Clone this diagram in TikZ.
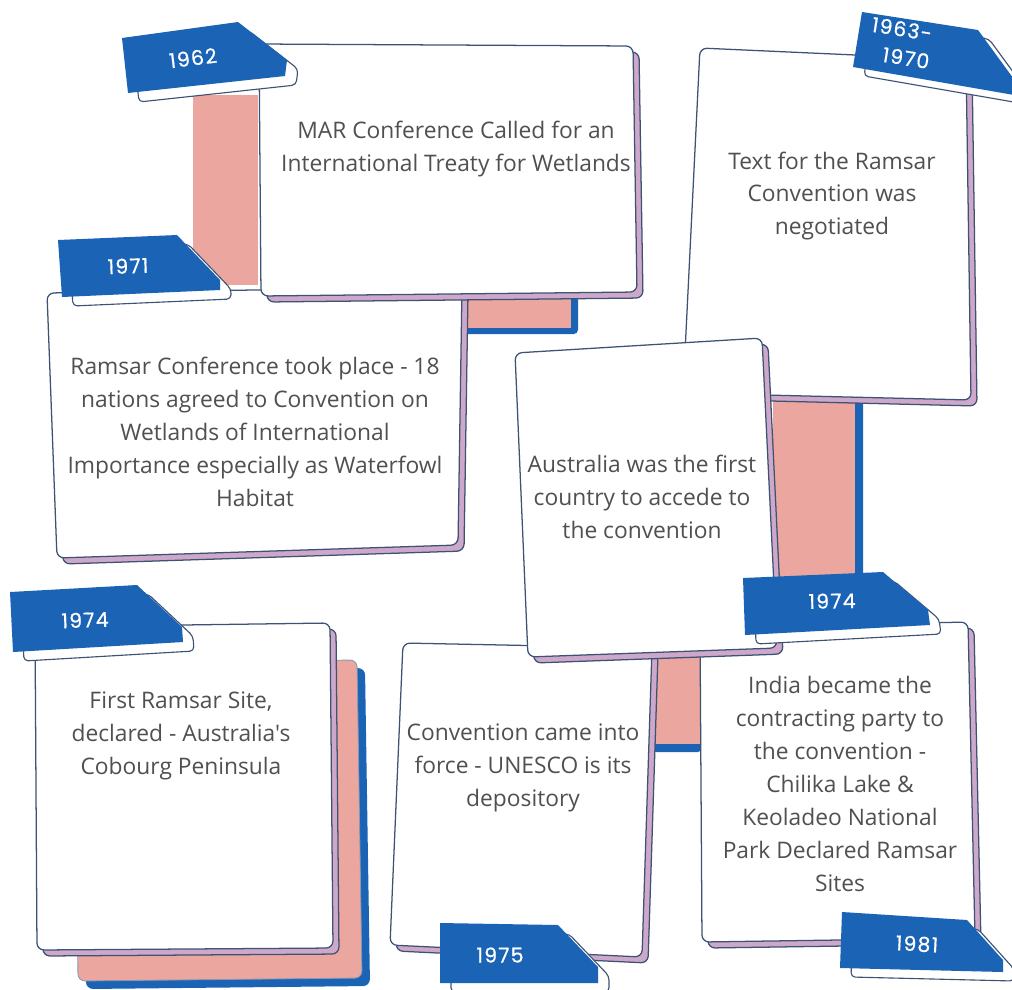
\documentclass[tikz,border=0pt]{standalone}
\usepackage{fontspec}
\setmainfont{Open Sans}[Ligatures=TeXOff]
\newfontfamily\yearfont{Poppins}[LetterSpace=6,FakeBold=0.6]
\definecolor{tabblue}{HTML}{1A63B5}
\definecolor{pinkc}{HTML}{EBA69F}
\definecolor{lav}{HTML}{CDA8CB}
\definecolor{edge}{HTML}{3E5272}
\definecolor{txt}{HTML}{505050}
\newcommand\mycard[4]{%
  \begin{scope}[shift={(6,6)}]\path[cardshadow] #1 -- #2 -- #3 -- #4 -- cycle;\end{scope}
  \path[card] #1 -- #2 -- #3 -- #4 -- cycle;}
\newcommand\mytab[5]{%
  \begin{scope}[shift={(11,9)}]\path[paper] #1 -- #2 -- #3 -- #4 -- #5 -- cycle;\end{scope}
  \path[tabfill] #1 -- #2 -- #3 -- #4 -- #5 -- cycle;}
\begin{document}
\begin{tikzpicture}[x=0.025cm,y=-0.025cm,
  card/.style={fill=white,draw=edge,line width=0.9pt,rounded corners=5pt},
  cardshadow/.style={fill=lav,draw=edge,line width=0.9pt,rounded corners=5pt},
  paper/.style={fill=white,draw=edge,line width=0.8pt,rounded corners=3pt},
  tabfill/.style={fill=tabblue},
  pinkblock/.style={fill=pinkc},
  blueblock/.style={fill=tabblue,rounded corners=3pt},
  cardtext/.style={text=txt,align=center,font=\fontsize{16.2}{23.4}\selectfont,inner sep=0pt},
  yeartext/.style={text=white,font=\yearfont\fontsize{14.5}{18}\selectfont,align=center,inner sep=0pt}]
\useasboundingbox (0,0) rectangle (1012,989);
\clip (0,0) rectangle (1012,989);

% connector blocks
\path[pinkblock] (193,95) rectangle (258,285);
\path[blueblock] (446,296) rectangle (578,334);
\path[pinkblock] (440,290) rectangle (571,328);
\path[blueblock] (782,398) rectangle (863,595);
\path[pinkblock] (773,392) rectangle (855,595);
\path[blueblock] (652,650) rectangle (702,752);
\path[pinkblock] (652,650) rectangle (700,744);

% card B (1963-1970)
\mycard{(700,48)}{(966,60)}{(971,400)}{(683,393)}
\mytab{(862,12)}{(978,30)}{(1016,82)}{(1014,95)}{(853,67)}
\node[yeartext,rotate=-9] (y1963a) at (902,29) {1963-};
\node[yeartext,rotate=-9] (y1963b) at (906,58) {1970};
\node[cardtext] (tB) at (832,196) {Text for the Ramsar\\Convention was\\negotiated};

% card C (1971)
\mycard{(47,293)}{(462,287)}{(458,545)}{(57,558)}
\mytab{(58,240)}{(177,235)}{(220,280)}{(220,290)}{(62,297)}
\node[yeartext,rotate=2] (y1971) at (128,266) {1971};
\node[cardtext] (tC) at (255,432) {Ramsar Conference took place - 18\\nations agreed to Convention on\\Wetlands of International\\Importance especially as Waterfowl\\Habitat};

% card A (1962)
\mycard{(259,44)}{(633,46)}{(637,292)}{(261,296)}
\mytab{(122,38)}{(238,22)}{(287,60)}{(285,76)}{(128,93)}
\node[yeartext,rotate=7] (y1962) at (193,58) {1962};
\node[cardtext] (tA) at (456,149) {MAR Conference Called for an\\International Treaty for Wetlands};

% card E (1974, first site)
\begin{scope}[shift={(8,8)}]\path[fill=tabblue,rounded corners=5pt] (75,663) -- (357,660) -- (362,978) -- (78,981) -- cycle;\end{scope}
\path[fill=pinkc,draw=edge!60,line width=0.6pt,rounded corners=5pt] (75,663) -- (357,660) -- (362,978) -- (78,981) -- cycle;
\mycard{(35,627)}{(330,623)}{(333,948)}{(37,950)}
\mytab{(10,592)}{(137,585)}{(182,627)}{(183,642)}{(13,652)}
\node[yeartext,rotate=2] (y1974a) at (85,620) {1974};
\node[cardtext] (tE) at (181,736) {First Ramsar Site,\\declared - Australia's\\Cobourg Peninsula};

% card F (1975)
\mycard{(403,643)}{(652,648)}{(642,957)}{(390,945)}
\node[cardtext] (tF) at (523,768) {Convention came into\\force - UNESCO is its\\depository};

% card G (1981)
\mycard{(700,628)}{(968,622)}{(975,938)}{(702,942)}
\node[cardtext] (tG) at (840,784) {India became the\\contracting party to\\the convention -\\Chilika Lake \&\\Keoladeo National\\Park Declared Ramsar\\Sites};

% card D (Australia)
\mycard{(515,353)}{(762,338)}{(777,648)}{(528,657)}
\node[cardtext] (tD) at (642,497) {Australia was the first\\country to accede to\\the convention};

% tabs on top
\mytab{(743,578)}{(883,572)}{(928,610)}{(930,625)}{(745,635)}
\node[yeartext,rotate=1] (y1974b) at (832,601) {1974};
\mytab{(440,923)}{(558,925)}{(598,967)}{(598,983)}{(440,983)}
\node[yeartext] (y1975) at (500,955) {1975};
\mytab{(842,912)}{(967,920)}{(1003,960)}{(1003,972)}{(840,968)}
\node[yeartext,rotate=-3] (y1981) at (917,944) {1981};
\end{tikzpicture}
\end{document}
